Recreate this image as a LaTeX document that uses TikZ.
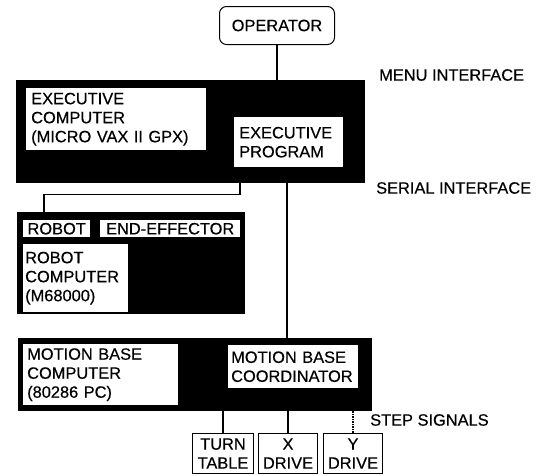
\documentclass[tikz,border=0pt]{standalone}
\usepackage{fontspec}
\setmainfont{Liberation Sans}
\newfontfamily\scanfont{Liberation Sans}[FakeBold=0.4]
\begin{document}
\begin{tikzpicture}[x=1pt,y=-1pt,
  font=\scanfont\fontsize{16.4}{19}\selectfont,
  blk/.style={fill=black, draw=none, inner sep=0pt, anchor=north west},
  wbox/.style={fill=white, draw=none, inner xsep=5pt, inner ysep=0pt, anchor=north west, align=left},
  wlbl/.style={fill=white, draw=none, inner sep=0pt, anchor=north west, align=center},
  obox/.style={fill=white, draw=black, line width=1pt, inner sep=0pt, anchor=north west, align=center},
  conn/.style={line width=1.2pt},
  lbl/.style={anchor=west, inner sep=0pt}]
\useasboundingbox (0,0) rectangle (539,475);

% operator
\node[obox, rounded corners=7pt, minimum width=115pt, minimum height=38pt] (op) at (219,6) {OPERATOR};

% executive computer
\node[blk, minimum width=349pt, minimum height=103pt] (exec) at (16,80) {};
\node[wbox, text width=170pt, minimum height=62pt] (ecomp) at (26,88) {EXECUTIVE\\COMPUTER\\(MICRO VAX II GPX)};
\node[wbox, text width=99pt, minimum height=50pt] (eprog) at (234,117) {EXECUTIVE\\PROGRAM};

\node[lbl] (menu) at (379,75) {MENU INTERFACE};
\node[lbl] (serial) at (376,188) {SERIAL INTERFACE};

% robot
\node[blk, minimum width=228pt, minimum height=102pt] (robot) at (17,212) {};
\node[wlbl, minimum width=67pt, minimum height=17pt] (rlab) at (23,220) {ROBOT};
\node[wlbl, minimum width=140pt, minimum height=17pt] (eff) at (100,220) {END-EFFECTOR};
\node[wbox, inner xsep=2pt, text width=101pt, minimum height=68pt] (rcomp) at (23,244) {ROBOT\\COMPUTER\\(M68000)};

% motion base
\node[blk, minimum width=354pt, minimum height=73pt] (mb) at (18,338) {};
\node[wbox, inner xsep=4pt, text width=147pt, minimum height=61pt] (mbcomp) at (23,344) {MOTION BASE\\COMPUTER\\(80286 PC)};
\node[wbox, inner xsep=3pt, text width=124pt, minimum height=43pt] (mbco) at (228,345) {MOTION BASE\\COORDINATOR};

\node[lbl] (step) at (370,420) {STEP SIGNALS};

% drives
\node[obox, minimum width=61pt, minimum height=40pt] (tt) at (192,433) {TURN\\TABLE};
\node[obox, minimum width=59pt, minimum height=40pt] (xd) at (258,433) {X\\DRIVE};
\node[obox, minimum width=59pt, minimum height=40pt] (yd) at (323,433) {Y\\DRIVE};

% connectors
\draw[conn] (op.south) -- (op.south |- exec.north);
\draw[conn] (exec.south -| 240,0) -- ++(0,11) -| ([xshift=27pt]robot.north west);
\draw[conn] (exec.south -| 287,0) -- (mb.north -| 287,0);
\draw[conn] (tt.north |- mb.south) -- (tt.north);
\draw[conn] (xd.north |- mb.south) -- (xd.north);
\draw[conn, dash pattern=on 1.5pt off 1pt] (yd.north |- mb.south) -- (yd.north);
\end{tikzpicture}
\end{document}
